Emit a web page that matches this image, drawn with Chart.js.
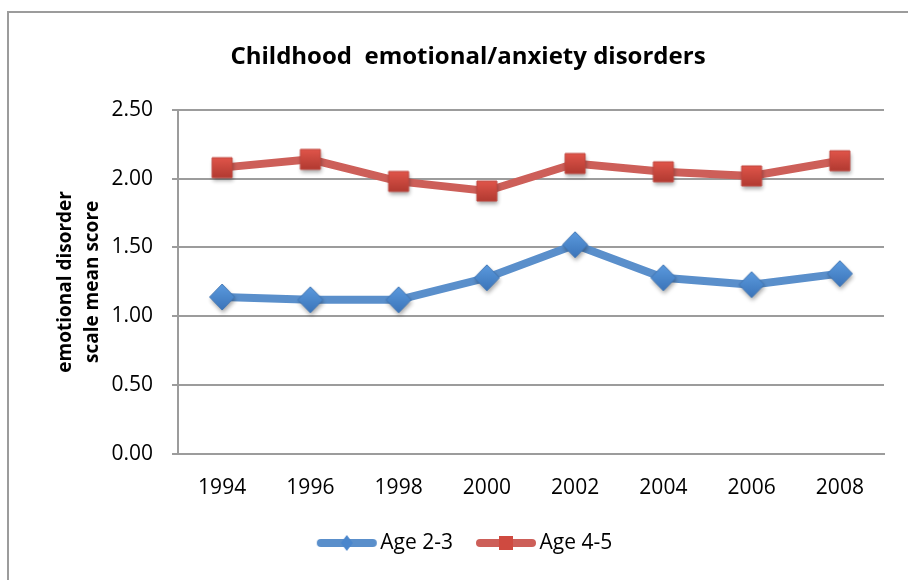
<!DOCTYPE html>
<html>
<head>
<meta charset="utf-8">
<title>Childhood emotional/anxiety disorders</title>
<script src="https://cdn.jsdelivr.net/npm/chart.js@4/dist/chart.umd.min.js"></script>
<style>
  html, body { margin: 0; padding: 0; background: #fff; }
  #wrap { position: relative; width: 908px; height: 580px; overflow: hidden; }
  #frame {
    position: absolute; left: 7px; top: 11px; width: 960px; height: 640px;
    border: 2px solid #9c9c9c; box-sizing: border-box;
  }
  #chart { position: absolute; left: 0; top: 0; }
</style>
</head>
<body>
<div id="wrap">
  <div id="frame"></div>
  <canvas id="chart" width="908" height="580"></canvas>
</div>
<script>
// Survey years and mean scores for each age group
const years = ['1994', '1996', '1998', '2000', '2002', '2004', '2006', '2008'];
const age23 = [1.14, 1.12, 1.12, 1.28, 1.52, 1.28, 1.23, 1.31];
const age45 = [2.08, 2.14, 1.98, 1.91, 2.11, 2.05, 2.02, 2.13];
const seriesNames = ['Age 2-3', 'Age 4-5'];

const FONT = '"Open Sans", "Noto Sans", sans-serif';
const BLUE = '#5a8fcb';
const RED = '#cd5f59';

// Marker images with a vertical gradient and soft drop shadow
function makeMarker(shape) {
  const c = document.createElement('canvas');
  c.width = 40; c.height = 40;
  const g = c.getContext('2d');
  const cx = 20, cy = 20;
  g.shadowColor = 'rgba(0,0,0,0.35)';
  g.shadowBlur = 4;
  g.shadowOffsetX = 1;
  g.shadowOffsetY = 3;
  g.beginPath();
  let grad;
  if (shape === 'diamond') {
    g.moveTo(cx, cy - 13);
    g.lineTo(cx + 12.5, cy);
    g.lineTo(cx, cy + 13);
    g.lineTo(cx - 12.5, cy);
    g.closePath();
    grad = g.createLinearGradient(0, cy - 13, 0, cy + 13);
    grad.addColorStop(0, '#5b9ade');
    grad.addColorStop(1, '#3b74b9');
    g.strokeStyle = '#4176b4';
  } else {
    g.rect(cx - 10, cy - 10, 20, 20);
    grad = g.createLinearGradient(0, cy - 10, 0, cy + 10);
    grad.addColorStop(0, '#e0554a');
    grad.addColorStop(1, '#b13a31');
    g.strokeStyle = '#c0473f';
  }
  g.fillStyle = grad;
  g.fill();
  g.shadowColor = 'transparent';
  g.lineWidth = 1;
  g.stroke();
  return c;
}

// Legend sample: a short thick line with the marker in its middle
function makeLegendIcon(color, shape) {
  const c = document.createElement('canvas');
  c.width = 62; c.height = 20;
  const g = c.getContext('2d');
  g.strokeStyle = color;
  g.lineWidth = 8;
  g.lineCap = 'round';
  g.beginPath();
  g.moveTo(5, 10);
  g.lineTo(57, 10);
  g.stroke();
  g.beginPath();
  if (shape === 'diamond') {
    g.fillStyle = '#4a86cc';
    g.moveTo(31, 2); g.lineTo(37, 10); g.lineTo(31, 18); g.lineTo(25, 10);
    g.closePath();
  } else {
    g.fillStyle = '#cf4a40';
    g.rect(24, 3, 14, 14);
  }
  g.fill();
  return c;
}

const markers = [makeMarker('diamond'), makeMarker('square')];
const legendIcons = [makeLegendIcon(BLUE, 'diamond'), makeLegendIcon(RED, 'square')];

const ctx = document.getElementById('chart').getContext('2d');
new Chart(ctx, {
  type: 'line',
  data: {
    labels: years,
    datasets: [
      {
        label: seriesNames[0],
        data: age23,
        borderColor: BLUE,
        borderWidth: 8,
        pointStyle: markers[0],
        pointRadius: 13,
        tension: 0
      },
      {
        label: seriesNames[1],
        data: age45,
        borderColor: RED,
        borderWidth: 8,
        pointStyle: markers[1],
        pointRadius: 13,
        tension: 0
      }
    ]
  },
  options: {
    responsive: false,
    animation: false,
    layout: { padding: { left: 52, right: 24, top: 0, bottom: 16.5 } },
    plugins: {
      title: {
        display: true,
        text: 'Childhood  emotional/anxiety disorders',
        color: '#000',
        font: { family: FONT, size: 24, weight: 'bold' },
        padding: { top: 43, bottom: 38 }
      },
      legend: {
        position: 'bottom',
        labels: {
          color: '#000',
          font: { family: FONT, size: 21 },
          usePointStyle: true,
          pointStyleWidth: 46,
          padding: 30,
          generateLabels: (chart) =>
            Chart.defaults.plugins.legend.labels.generateLabels(chart).map((item, i) => {
              item.pointStyle = legendIcons[i];
              return item;
            })
        }
      },
      tooltip: { enabled: false }
    },
    scales: {
      x: {
        offset: true,
        grid: { display: false, drawTicks: false },
        border: { display: true, color: '#9c9c9c', width: 2 },
        ticks: { color: '#000', padding: 21, font: { family: FONT, size: 21 } },
        afterFit: (scale) => { scale.height = 48.5; }
      },
      y: {
        min: 0,
        max: 2.5,
        ticks: {
          stepSize: 0.5,
          color: '#000',
          padding: 19,
          font: { family: FONT, size: 21 },
          callback: (v) => Number(v).toFixed(2)
        },
        grid: { color: '#9c9c9c', lineWidth: 2, tickLength: 6 },
        border: { display: true, color: '#9c9c9c', width: 2 },
        title: {
          display: true,
          text: ['emotional disorder', 'scale mean score'],
          color: '#000',
          font: { family: FONT, size: 19, weight: 'bold', lineHeight: 1.42 },
          padding: 0
        },
        afterFit: (scale) => { scale.width = 126; }
      }
    }
  }
});
</script>
</body>
</html>
